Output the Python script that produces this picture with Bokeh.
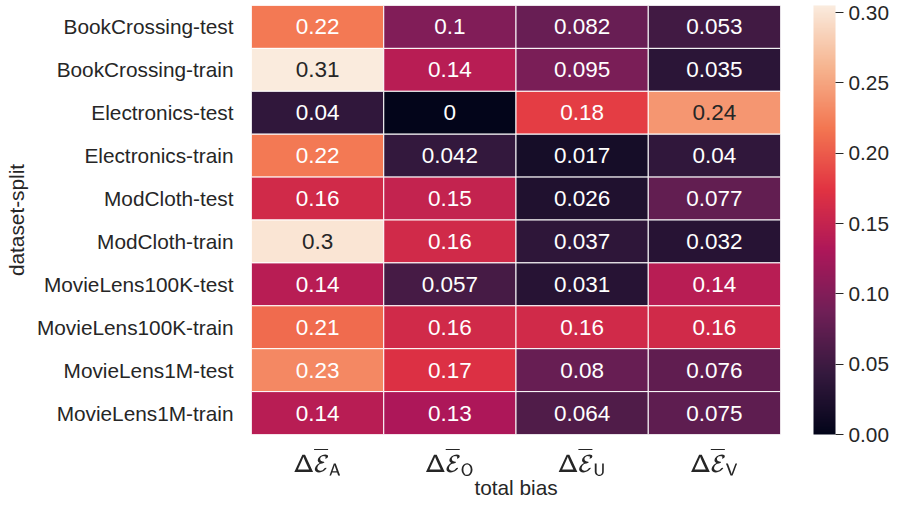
import numpy as np
from bokeh.plotting import figure
from bokeh.models import (ColumnDataSource, LinearColorMapper, ColorBar, FixedTicker,
                          NumeralTickFormatter, FactorRange, Range1d)
from bokeh.core.properties import value
from bokeh.embed import file_html
from bokeh.resources import INLINE

# dataset splits (rows, top to bottom)
splits = ["BookCrossing-test", "BookCrossing-train", "Electronics-test", "Electronics-train",
          "ModCloth-test", "ModCloth-train", "MovieLens100K-test", "MovieLens100K-train",
          "MovieLens1M-test", "MovieLens1M-train"]

# total bias components (columns)
metric_labels = [r"$$\mathsf{\Delta}\overline{\mathcal{E}}_{\mathsf{A}}$$",
                 r"$$\mathsf{\Delta}\overline{\mathcal{E}}_{\mathsf{O}}$$",
                 r"$$\mathsf{\Delta}\overline{\mathcal{E}}_{\mathsf{U}}$$",
                 r"$$\mathsf{\Delta}\overline{\mathcal{E}}_{\mathsf{V}}$$"]

bias_A = [0.22, 0.31, 0.04, 0.22, 0.16, 0.30, 0.14, 0.21, 0.23, 0.14]
bias_O = [0.10, 0.14, 0.0, 0.042, 0.15, 0.16, 0.057, 0.16, 0.17, 0.13]
bias_U = [0.082, 0.095, 0.18, 0.017, 0.026, 0.037, 0.031, 0.16, 0.08, 0.064]
bias_V = [0.053, 0.035, 0.24, 0.04, 0.077, 0.032, 0.14, 0.16, 0.076, 0.075]

colorbar_ticks = [0.0, 0.05, 0.10, 0.15, 0.20, 0.25, 0.30]
scale_max = 0.305

# "rocket" colour map built from anchor colours
rocket_anchors = ["#03051A", "#35193E", "#701F57", "#AD1759",
                  "#E13342", "#F37651", "#F6B48F", "#FAEBDD"]


def hex_to_rgb(h):
    h = h.lstrip("#")
    return [int(h[i:i + 2], 16) for i in (0, 2, 4)]


anchor_rgb = np.array([hex_to_rgb(c) for c in rocket_anchors], dtype=float)
anchor_pos = np.linspace(0, 1, len(rocket_anchors))
grid = np.linspace(0, 1, 256)
rgb = np.stack([np.interp(grid, anchor_pos, anchor_rgb[:, k]) for k in range(3)], axis=1)
rocket = ["#%02x%02x%02x" % tuple(int(round(v)) for v in row) for row in rgb]


def luminance(v):
    idx = int(round(min(max(v / scale_max, 0), 1) * 255))
    r, g, b = [c / 255 for c in rgb[idx]]
    lin = [c / 12.92 if c <= 0.03928 else ((c + 0.055) / 1.055) ** 2.4 for c in (r, g, b)]
    return 0.2126 * lin[0] + 0.7152 * lin[1] + 0.0722 * lin[2]


columns = [bias_A, bias_O, bias_U, bias_V]
xs, ys, vals, texts, tcolors = [], [], [], [], []
for j, col in enumerate(columns):
    for i, s in enumerate(splits):
        v = col[i]
        xs.append(j + 0.5)
        ys.append(s)
        vals.append(v)
        texts.append(format(v, ".2g"))
        tcolors.append("#262626" if luminance(v) > 0.408 else "#ffffff")

source = ColumnDataSource(dict(x=xs, y=ys, val=vals, label=texts, tcolor=tcolors))

mapper = LinearColorMapper(palette=rocket, low=0.0, high=scale_max)

p = figure(width=898, height=512, output_backend="svg", toolbar_location=None,
           x_range=Range1d(0, 4), y_range=FactorRange(factors=list(reversed(splits))),
           min_border_left=251, min_border_right=118, min_border_top=5, min_border_bottom=78)
p.outline_line_color = None
p.background_fill_color = "white"
p.border_fill_color = "white"
p.grid.visible = False

p.rect(x="x", y="y", width=1, height=1, source=source,
       fill_color={"field": "val", "transform": mapper},
       line_color="white", line_width=1)

p.text(x="x", y="y", text="label", source=source, text_color="tcolor",
       text_align="center", text_baseline="middle",
       text_font=value("Liberation Sans"), text_font_size=value("22.5px"))

font = "Liberation Sans"
for ax in (p.xaxis[0], p.yaxis[0]):
    ax.axis_line_color = None
    ax.major_tick_line_color = None
    ax.minor_tick_line_color = None
    ax.major_tick_out = 0
    ax.major_tick_in = 0
    ax.major_label_text_font = font
    ax.major_label_text_font_size = "20.8px"
    ax.major_label_text_color = "#262626"
    ax.axis_label_text_font = font
    ax.axis_label_text_font_size = "20.8px"
    ax.axis_label_text_font_style = "normal"
    ax.axis_label_text_color = "#262626"

p.xaxis.ticker = FixedTicker(ticks=[0.5, 1.5, 2.5, 3.5])
p.xaxis.major_label_overrides = {0.5 + j: lab for j, lab in enumerate(metric_labels)}
p.xaxis.major_label_standoff = 12
p.xaxis.axis_label = "total bias"
p.xaxis.axis_label_standoff = -3

p.yaxis.major_label_standoff = 18
p.yaxis.axis_label = "dataset-split"
p.yaxis.axis_label_standoff = 6

cb = ColorBar(color_mapper=mapper, location=(33, 0), width=22, height=429,
              padding=0, margin=0,
              ticker=FixedTicker(ticks=colorbar_ticks),
              formatter=NumeralTickFormatter(format="0.00"),
              major_tick_in=0, major_tick_out=8, major_tick_line_color="#262626",
              major_label_text_font=font, major_label_text_font_size="20.8px",
              major_label_text_color="#262626", label_standoff=5,
              bar_line_color=None, border_line_color=None, background_fill_color=None)
p.add_layout(cb, "right")

open("out.html", "w").write(file_html(p, INLINE))
